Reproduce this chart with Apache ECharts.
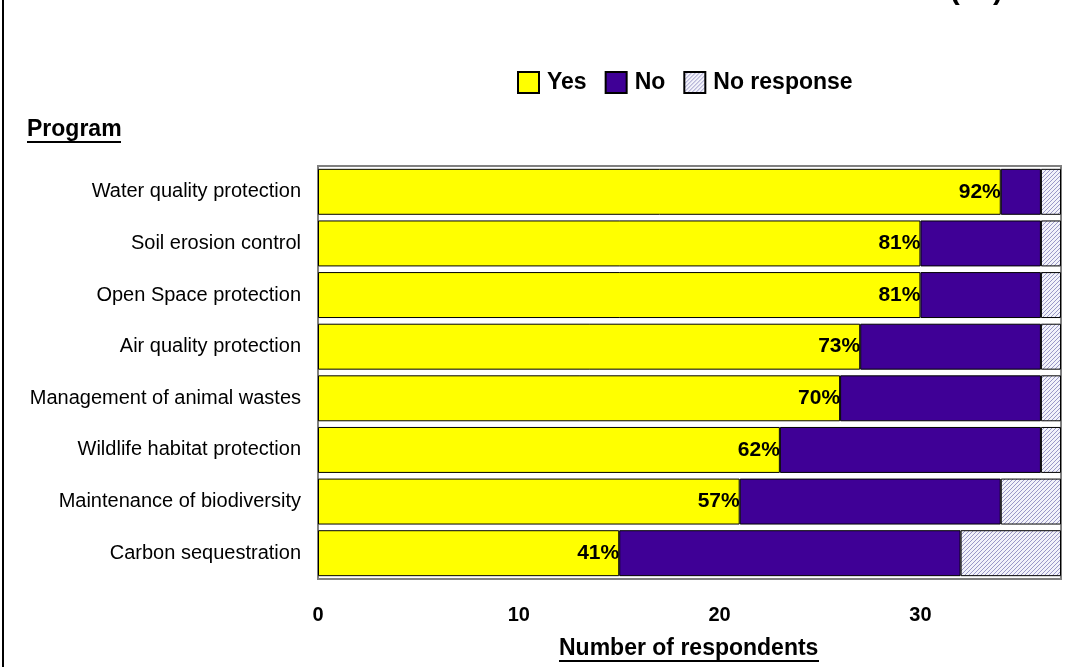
<!DOCTYPE html>
<html>
<head>
<meta charset="utf-8">
<script src="https://cdn.jsdelivr.net/npm/echarts@6/dist/echarts.min.js"></script>
<style>
  html, body { margin: 0; padding: 0; background: #fff; }
  #chart { width: 1081px; height: 667px; }
</style>
</head>
<body>
<div id="chart"></div>
<script>
var programs = ['Water quality protection', 'Soil erosion control', 'Open Space protection',
  'Air quality protection', 'Management of animal wastes', 'Wildlife habitat protection',
  'Maintenance of biodiversity', 'Carbon sequestration'];
var yesData = [34, 30, 30, 27, 26, 23, 21, 15];
var noData = [2, 6, 6, 9, 10, 13, 13, 17];
var noRespData = [1, 1, 1, 1, 1, 1, 3, 5];
var xTicks = [0, 10, 20, 30];

// hatch pattern for "No response"
var hatch = document.createElement('canvas');
hatch.width = 4; hatch.height = 4;
var hc = hatch.getContext('2d');
hc.fillStyle = '#f2f2fa';
hc.fillRect(0, 0, 4, 4);
hc.strokeStyle = '#9a98c8';
hc.lineWidth = 1;
hc.beginPath();
hc.moveTo(0, 4); hc.lineTo(4, 0);
hc.moveTo(-1, 1); hc.lineTo(1, -1);
hc.moveTo(3, 5); hc.lineTo(5, 3);
hc.stroke();

var chart = echarts.init(document.getElementById('chart'));
var fontFam = 'Liberation Sans, Arial, sans-serif';

var option = {
  animation: false,
  textStyle: { fontFamily: fontFam },
  legend: {
    top: 66,
    left: 512,
    icon: 'rect',
    itemWidth: 21,
    itemHeight: 21,
    itemGap: 18,
    textStyle: { fontSize: 23, fontWeight: 'bold', color: '#000', padding: [0, 0, 0, 3] },
    data: ['Yes', 'No', 'No response']
  },
  grid: {
    left: 318, right: 20, top: 166, bottom: 88,
    show: true, borderColor: '#808080', borderWidth: 2
  },
  xAxis: {
    type: 'value',
    min: 0, max: 37, interval: 10,
    axisLine: { show: false },
    axisTick: { show: false },
    splitLine: { show: false },
    axisLabel: {
      margin: 26, fontSize: 20, fontWeight: 'bold', color: '#000',
      showMaxLabel: false,
      formatter: function (v) { return xTicks.indexOf(v) >= 0 ? String(v) : ''; }
    }
  },
  yAxis: {
    type: 'category',
    inverse: true,
    data: programs,
    axisLine: { show: false },
    axisTick: { show: false },
    axisLabel: { margin: 17, fontSize: 20, color: '#000' }
  },
  graphic: [
    { type: 'line', shape: { x1: 3, y1: 0, x2: 3, y2: 667 }, style: { stroke: '#000', lineWidth: 2 } },
    { type: 'text', right: 78, top: -24, style: { text: '(37)', fontSize: 30, fontWeight: 'bold', fill: '#000', fontFamily: fontFam } },
    { type: 'text', left: 27, top: 118, style: { text: 'Program', fontSize: 23, fontWeight: 'bold', fill: '#000', fontFamily: fontFam } },
    { type: 'line', shape: { x1: 27, y1: 142, x2: 121, y2: 142 }, style: { stroke: '#000', lineWidth: 2 } },
    { type: 'text', left: 559, top: 637, style: { text: 'Number of respondents', fontSize: 23, fontWeight: 'bold', fill: '#000', fontFamily: fontFam } },
    { type: 'line', shape: { x1: 559, y1: 661, x2: 819, y2: 661 }, style: { stroke: '#000', lineWidth: 2 } }
  ],
  series: [
    {
      name: 'Yes', type: 'bar', stack: 'all', barCategoryGap: '11%',
      itemStyle: { color: '#ffff00', borderColor: '#000', borderWidth: 1 },
      label: {
        show: true, position: 'insideRight', distance: 0,
        fontSize: 21, fontWeight: 'bold', color: '#000',
        formatter: function (p) {
          var i = p.dataIndex;
          var total = yesData[i] + noData[i] + noRespData[i];
          return Math.round(yesData[i] / total * 100) + '%';
        }
      },
      data: yesData
    },
    {
      name: 'No', type: 'bar', stack: 'all',
      itemStyle: { color: '#3f0096', borderColor: '#000', borderWidth: 1 },
      data: noData
    },
    {
      name: 'No response', type: 'bar', stack: 'all',
      itemStyle: { color: { image: hatch, repeat: 'repeat' }, borderColor: '#000', borderWidth: 1 },
      data: noRespData
    }
  ]
};
chart.setOption(option);
</script>
</body>
</html>
